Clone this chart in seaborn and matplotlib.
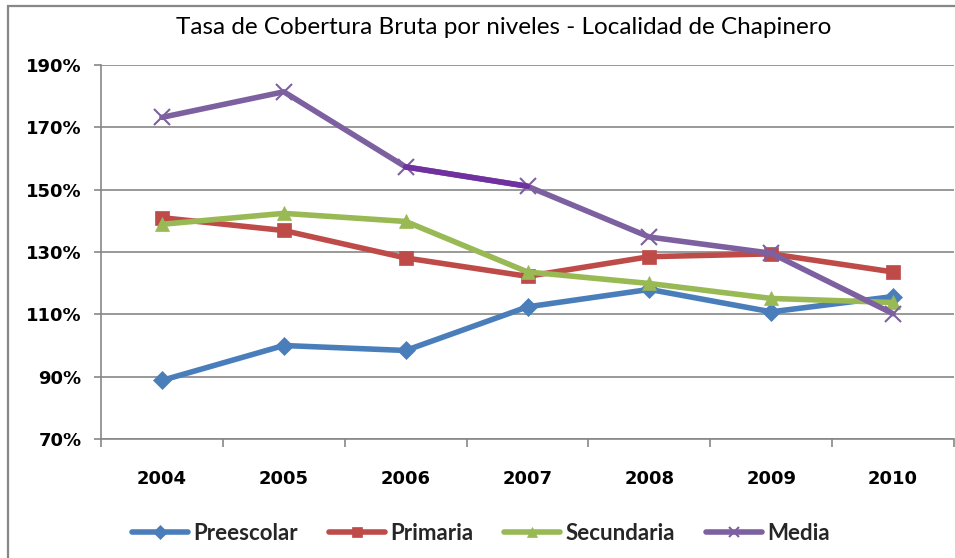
import matplotlib
matplotlib.use("Agg")
import matplotlib.pyplot as plt
import seaborn as sns
import pandas as pd
import numpy as np
from matplotlib.ticker import FixedLocator, FuncFormatter
from matplotlib.patches import Rectangle

years = ["2004", "2005", "2006", "2007", "2008", "2009", "2010"]
preescolar = [88.8, 100.0, 98.4, 112.4, 118.0, 110.8, 115.7]
primaria = [141.0, 136.9, 128.1, 122.2, 128.5, 129.4, 123.6]
secundaria = [138.9, 142.4, 139.8, 123.6, 119.9, 115.1, 113.8]
media = [173.2, 181.4, 157.3, 151.1, 134.8, 129.6, 110.2]

series_names = ["Preescolar", "Primaria", "Secundaria", "Media"]
colors = {"Preescolar": "#4A7EBB", "Primaria": "#BE4B48", "Secundaria": "#98B954", "Media": "#7D60A0"}
markers = {"Preescolar": "D", "Primaria": "s", "Secundaria": "^", "Media": "x"}
msizes = {"Preescolar": 9, "Primaria": 10, "Secundaria": 10.5, "Media": 11}

rows = []
for name, vals in zip(series_names, [preescolar, primaria, secundaria, media]):
    for i, (y, v) in enumerate(zip(years, vals)):
        rows.append({"idx": i, "year": y, "serie": name, "valor": v})
df = pd.DataFrame(rows)

sns.set_theme(style="white")
plt.rcParams['font.family'] = ['Lato', 'DejaVu Sans']

fig = plt.figure(figsize=(9.55, 5.58), dpi=100)
ax = fig.add_axes([101/955, 1-439/558, (954-101)/955, (439-65)/558])

for name in series_names:
    sub = df[df.serie == name]
    sns.lineplot(data=sub, x="idx", y="valor", ax=ax, color=colors[name],
                 linewidth=4.0, marker=markers[name], markersize=msizes[name],
                 markeredgecolor=colors[name], markeredgewidth=1.5 if name == "Media" else 0.5,
                 label=name, legend=False, zorder=3)
    if name == "Media":
        seg = sub[(sub.year == "2006") | (sub.year == "2007")]
        sns.lineplot(data=seg, x="idx", y="valor", ax=ax, color="#7030A0",
                     linewidth=4.0, legend=False, zorder=3.5)

ax.set_xlim(-0.5, len(years) - 0.5)
ax.set_ylim(70, 190)
ax.yaxis.set_major_locator(FixedLocator(np.arange(70, 191, 20)))
ax.yaxis.set_major_formatter(FuncFormatter(lambda v, p: f"{int(round(v))}%"))
ax.set_xticks(range(len(years)))
ax.set_xticklabels(years)
ax.xaxis.set_minor_locator(FixedLocator(np.arange(-0.5, len(years), 1.0)))
ax.set_xlabel("")
ax.set_ylabel("")

grid_c = "#878787"
ax.grid(axis="y", color=grid_c, linewidth=1.2, zorder=0)
ax.grid(axis="x", visible=False)
for s in ["top", "right"]:
    ax.spines[s].set_visible(False)
for s in ["left", "bottom"]:
    ax.spines[s].set_color(grid_c)
    ax.spines[s].set_linewidth(1.2)

ax.tick_params(axis="y", which="major", left=True, length=5, width=1.2, color=grid_c,
               pad=9, labelsize=13, labelcolor="black")
ax.tick_params(axis="x", which="major", bottom=False, length=0, pad=22, labelsize=13, labelcolor="black")
ax.tick_params(axis="x", which="minor", bottom=True, length=6, width=1.2, color=grid_c)
for lbl in ax.get_xticklabels() + ax.get_yticklabels():
    lbl.set_fontweight("bold")
    lbl.set_fontfamily("DejaVu Sans")

fig.text(504/955, 1-27/558, "Tasa de Cobertura Bruta por niveles - Localidad de Chapinero",
         ha="center", va="center", fontsize=17.5, color="black")

handles, labels = ax.get_legend_handles_labels()
leg = fig.legend(handles[:4], labels[:4], loc="center", bbox_to_anchor=(481/955, 1-533/558),
                 ncol=4, frameon=False, handlelength=2.5, columnspacing=1.4,
                 handletextpad=0.25, prop={"family": "Lato", "weight": "bold", "size": 16})
for h in leg.legend_handles:
    h.set_markersize(7)

fig.patches.append(Rectangle((8/955, -0.1), 1.2, 1-6/558+0.1, transform=fig.transFigure,
                             fill=False, edgecolor=grid_c, linewidth=1.6, zorder=0))

fig.savefig("out.png", dpi=100)
